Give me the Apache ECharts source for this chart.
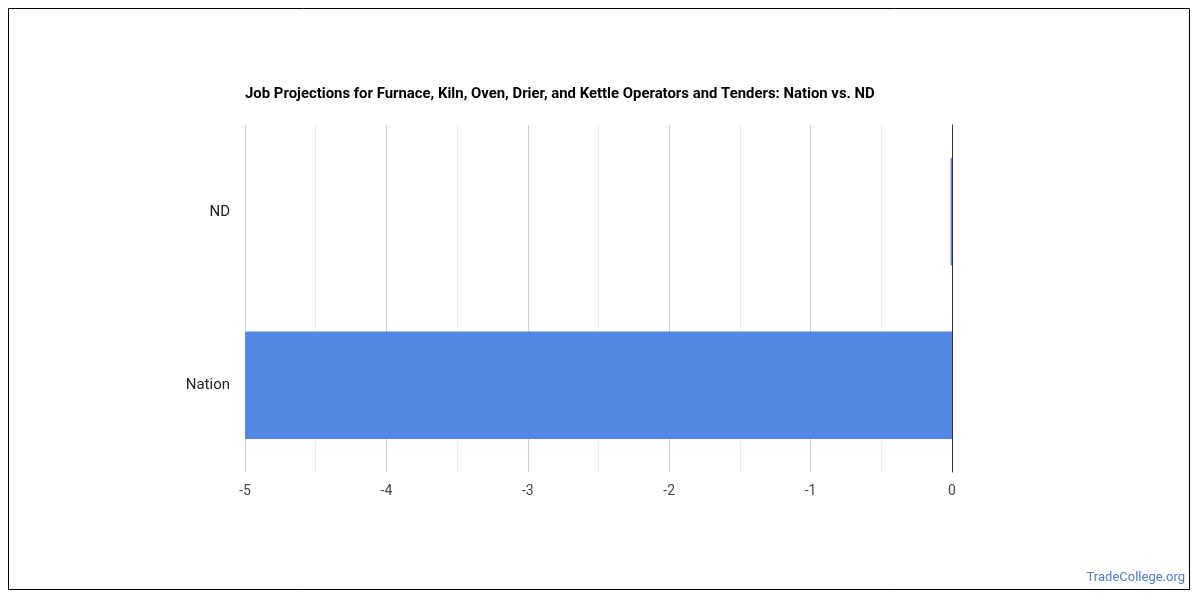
<!DOCTYPE html>
<html><head><meta charset="utf-8">
<script src="https://cdn.jsdelivr.net/npm/echarts@6/dist/echarts.min.js"></script>
<style>html,body{margin:0;padding:0;background:#fff}#c{width:1200px;height:600px}</style>
</head><body><div id="c"></div>
<script>
var categories = ['Nation', 'ND'];
var values = [-5, -0.01];
var tickMin = -5, tickMax = 0;

var chart = echarts.init(document.getElementById('c'));
chart.setOption({
  animation: false,
  title: {
    text: 'Job Projections for Furnace, Kiln, Oven, Drier, and Kettle Operators and Tenders: Nation vs. ND',
    left: 240, top: 82,
    textStyle: {fontFamily: 'Roboto', fontSize: 14.9, fontWeight: 'bold', color: '#000'}
  },
  grid: {left: 245, right: 248, top: 125, bottom: 128},
  xAxis: {
    type: 'value', min: tickMin, max: tickMax, interval: 1,
    axisLine: {show: false}, axisTick: {show: false},
    axisLabel: {fontFamily: 'Roboto', fontSize: 14, color: '#444', margin: 12},
    splitLine: {show: true, lineStyle: {color: '#cccccc', width: 1}},
    minorTick: {show: false, splitNumber: 2},
    minorSplitLine: {show: true, lineStyle: {color: '#ebebeb', width: 1}}
  },
  yAxis: {
    type: 'category', data: categories,
    axisLine: {show: true, lineStyle: {color: '#333', width: 1}},
    axisTick: {show: false},
    axisLabel: {fontFamily: 'Roboto', fontSize: 15, color: '#222', margin: 15, lineHeight: 22}
  },
  series: [{
    type: 'bar', data: values, barWidth: '62%',
    itemStyle: {color: '#5486e3'}
  }],
  graphic: [
    {type: 'rect', shape: {x: 8.5, y: 8.5, width: 1181, height: 581}, style: {fill: 'none', stroke: '#000', lineWidth: 1}, silent: true},
    {type: 'text', right: 15, top: 571, style: {text: 'TradeCollege.org', fontFamily: 'Roboto', fontSize: 13, fill: '#4a7fd4'}}
  ]
});
</script></body></html>
